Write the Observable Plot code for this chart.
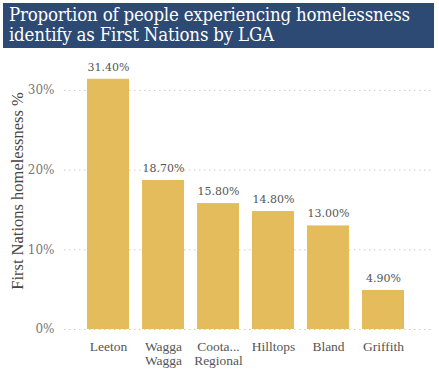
<!DOCTYPE html>
<html>
<head>
<meta charset="utf-8">
<script src="https://cdn.jsdelivr.net/npm/d3@7"></script>
<script src="https://cdn.jsdelivr.net/npm/@observablehq/plot@0.6"></script>
<style>
  html, body { margin: 0; padding: 0; background: #fff; }
  #wrap { width: 439px; height: 369px; position: relative; overflow: hidden; }
  #title {
    position: absolute; left: 3px; top: 3px; width: 431px; height: 45px;
    background: #2C4A74; color: #fff; box-sizing: border-box;
    padding: 2px 0 0 6px;
    font-family: "DejaVu Serif", serif; font-size: 18.5px; line-height: 19.5px;
    font-stretch: semi-condensed; letter-spacing: -0.2px;
  }
  #chart { position: absolute; left: 0; top: 55px; }
</style>
</head>
<body>
<div id="wrap">
  <div id="title">Proportion of people experiencing homelessness<br>identify as First Nations by LGA</div>
  <div id="chart"></div>
</div>
<script>
const categories = ["Leeton", "Wagga Wagga", "Coota... Regional", "Hilltops", "Bland", "Griffith"];
const tickLabels = ["Leeton", "Wagga\nWagga", "Coota...\nRegional", "Hilltops", "Bland", "Griffith"];
const values = [31.4, 18.7, 15.8, 14.8, 13.0, 4.9];
const yTicks = [0, 10, 20, 30];
const yLabel = "First Nations homelessness %";

const data = categories.map((c, i) => ({category: c, value: values[i]}));

const serif = "'DejaVu Serif', serif";
const lib = "'Liberation Serif', serif";
const chart = Plot.plot({
  width: 439,
  height: 314,
  marginLeft: 64,
  marginRight: 7,
  marginTop: 19,
  marginBottom: 40,
  style: {fontFamily: serif, fontSize: "12px", color: "#666", background: "transparent"},
  x: {domain: categories, paddingInner: 0.24, paddingOuter: 0.44, align: 0.45, label: null},
  y: {domain: [0, 32], label: null},
  marks: [
    Plot.ruleY(yTicks, {stroke: "#cccccc", strokeDasharray: "1.5,3.5", strokeWidth: 1}),
    Plot.barY(data, {x: "category", y: "value", fill: "#E5BC5B"}),
    Plot.text(data, {x: "category", y: "value", text: d => d.value.toFixed(2) + "%", dy: -12, fill: "#555", fontSize: 11}),
    Plot.axisY(yTicks, {tickSize: 0, tickPadding: 10, tickFormat: d => d + "%", fill: "#777", fontSize: 12, label: null}),
    Plot.axisX({tickSize: 0, tickPadding: 12, tickFormat: d => tickLabels[categories.indexOf(d)], fill: "#555", fontFamily: lib, fontSize: 13.5, lineHeight: 1.0, label: null}),
    Plot.text([yLabel], {frameAnchor: "left", textAnchor: "middle", text: d => d, rotate: -90, dx: -47, dy: -11, fill: "#444", fontFamily: lib, fontSize: 16.5})
  ]
});
document.getElementById("chart").appendChild(chart);
</script>
</body>
</html>
